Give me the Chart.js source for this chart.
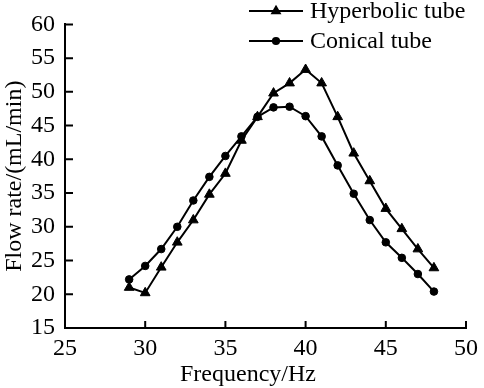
<!DOCTYPE html>
<html lang="en">
<head>
    <meta charset="UTF-8">
    <title>Flow rate vs frequency</title>
    <script src="https://cdn.jsdelivr.net/npm/chart.js"></script>
    <style>
        body {
            margin: 0;
            padding: 0;
            background-color: white;
        }

        .chart-container {
            width: 484px;
            height: 388px;
        }
    </style>
</head>
<body>
    <div class="chart-container">
        <canvas id="chart"></canvas>
    </div>

    <script>
        const frequencies = [29, 30, 31, 32, 33, 34, 35, 36, 37, 38, 39, 40, 41, 42, 43, 44, 45, 46, 47, 48];
        const hyperbolicFlow = [21.0, 20.2, 24.0, 27.7, 31.0, 34.8, 37.9, 42.8, 46.3, 49.8, 51.3, 53.3, 51.3, 46.3, 40.9, 36.8, 32.7, 29.7, 26.7, 23.9];
        const conicalFlow = [22.2, 24.2, 26.7, 30.0, 33.9, 37.4, 40.5, 43.4, 46.3, 47.7, 47.8, 46.4, 43.4, 39.1, 34.9, 31.0, 27.7, 25.4, 23.0, 20.4];
        const seriesNames = ['Hyperbolic tube', 'Conical tube'];
        const xTitle = 'Frequency/Hz';

        const font = "'Liberation Serif', 'Times New Roman', serif";

        // inward tick marks, drawn from the scales' own tick positions
        const innerTicks = {
            id: 'innerTicks',
            afterDraw(chart) {
                const ctx = chart.ctx;
                const area = chart.chartArea;
                const x = chart.scales.x;
                const y = chart.scales.y;
                ctx.save();
                ctx.strokeStyle = '#000';
                ctx.lineWidth = 2;
                ctx.beginPath();
                x.ticks.forEach((t, i) => {
                    const px = x.getPixelForTick(i);
                    ctx.moveTo(px, area.bottom);
                    ctx.lineTo(px, area.bottom - 7);
                });
                y.ticks.forEach((t, i) => {
                    const py = y.getPixelForTick(i);
                    ctx.moveTo(area.left, py);
                    ctx.lineTo(area.left + 8, py);
                });
                ctx.stroke();

                // x axis title sits a bit left of the plot centre in the original
                ctx.font = '24px ' + font;
                ctx.fillStyle = '#000';
                ctx.textAlign = 'center';
                ctx.textBaseline = 'alphabetic';
                ctx.fillText(xTitle, 248, 381);
                ctx.restore();
            }
        };

        // legend: line with marker then label, top right
        const lineLegend = {
            id: 'lineLegend',
            afterDraw(chart) {
                const ctx = chart.ctx;
                ctx.save();
                ctx.font = '24px ' + font;
                ctx.textBaseline = 'middle';
                ctx.fillStyle = '#000';
                chart.data.datasets.forEach((ds, i) => {
                    const cy = 11 + i * 30;
                    ctx.strokeStyle = '#000';
                    ctx.lineWidth = 1.8;
                    ctx.beginPath();
                    ctx.moveTo(249, cy);
                    ctx.lineTo(303, cy);
                    ctx.stroke();
                    Chart.helpers.drawPoint(ctx, {
                        pointStyle: ds.pointStyle,
                        radius: ds.pointStyle === 'triangle' ? 4.5 : 3.2,
                        rotation: 0,
                        borderWidth: 1
                    }, 276, cy);
                    ctx.fillStyle = '#000';
                    ctx.fillText(ds.label, 310, cy + 1);
                });
                ctx.restore();
            }
        };

        new Chart(document.getElementById('chart'), {
            type: 'line',
            data: {
                datasets: [{
                    label: seriesNames[0],
                    data: frequencies.map((f, i) => ({ x: f, y: hyperbolicFlow[i] })),
                    borderColor: '#000',
                    backgroundColor: '#000',
                    borderWidth: 2,
                    pointStyle: 'triangle',
                    pointRadius: 5.6,
                    pointBorderWidth: 1,
                    tension: 0
                }, {
                    label: seriesNames[1],
                    data: frequencies.map((f, i) => ({ x: f, y: conicalFlow[i] })),
                    borderColor: '#000',
                    backgroundColor: '#000',
                    borderWidth: 2,
                    pointStyle: 'circle',
                    pointRadius: 3.8,
                    pointBorderWidth: 1,
                    tension: 0
                }]
            },
            options: {
                responsive: true,
                maintainAspectRatio: false,
                animation: false,
                layout: {
                    padding: { left: 0, top: 21, right: 13, bottom: 0 }
                },
                plugins: {
                    legend: { display: false },
                    tooltip: { enabled: false }
                },
                scales: {
                    x: {
                        type: 'linear',
                        min: 25,
                        max: 50,
                        ticks: {
                            stepSize: 5,
                            color: '#000',
                            padding: 6,
                            maxRotation: 0,
                            font: { family: font, size: 24 }
                        },
                        grid: { display: false, drawTicks: false },
                        border: { color: '#000', width: 2 },
                        afterFit(scale) { scale.height = 60; }
                    },
                    y: {
                        min: 15,
                        max: 60,
                        ticks: {
                            stepSize: 5,
                            color: '#000',
                            padding: 10,
                            font: { family: font, size: 24 }
                        },
                        grid: { display: false, drawTicks: false },
                        border: { color: '#000', width: 2 },
                        title: {
                            display: true,
                            text: 'Flow rate/(mL/min)',
                            color: '#000',
                            padding: { top: 0, bottom: 0 },
                            font: { family: font, size: 24 }
                        },
                        afterFit(scale) { scale.width = 65; }
                    }
                }
            },
            plugins: [innerTicks, lineLegend]
        });
    </script>
</body>
</html>
